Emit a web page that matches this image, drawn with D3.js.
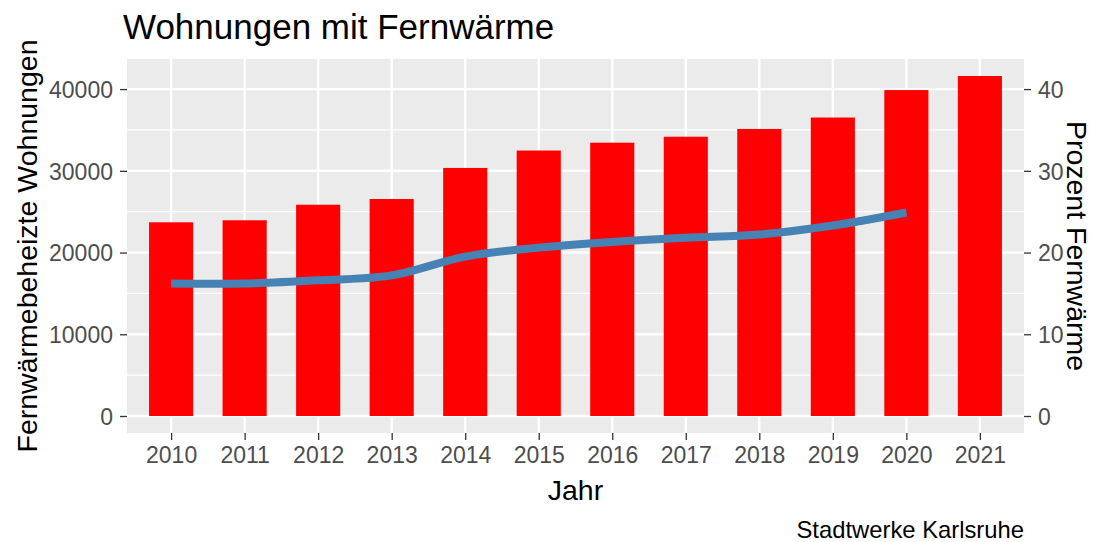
<!DOCTYPE html>
<html>
<head>
<meta charset="utf-8">
<script src="https://cdn.jsdelivr.net/npm/d3@7"></script>
<style>
  html, body { margin: 0; padding: 0; background: #ffffff; }
  svg { display: block; }
  text { font-family: "Liberation Sans", Arial, sans-serif; }
</style>
</head>
<body>
<svg id="chart" width="1095" height="542"></svg>
<script>
// ---- data ----
const years = ["2010","2011","2012","2013","2014","2015","2016","2017","2018","2019","2020","2021"];
const wohnungen = [23700, 23950, 25850, 26550, 30350, 32480, 33440, 34170, 35120, 36520, 39880, 41600];
const lineYears = ["2010","2011","2012","2013","2014","2015","2016","2017","2018","2019","2020"];
const prozent = [16.2, 16.2, 16.6, 17.2, 19.5, 20.6, 21.3, 21.8, 22.2, 23.3, 24.9];
const leftTicks = [0, 10000, 20000, 30000, 40000];
const leftMinor = [5000, 15000, 25000, 35000];
const rightTicks = [0, 10, 20, 30, 40];
const title = "Wohnungen mit Fernwärme";
const xTitle = "Jahr";
const yTitle = "Fernwärmebeheizte Wohnungen";
const y2Title = "Prozent Fernwärme";
const caption = "Stadtwerke Karlsruhe";
const factor = 1000;

// ---- layout ----
const panel = { left: 127, right: 1024, top: 59, bottom: 433 };
const svg = d3.select("#chart");

const maxV = d3.max(wohnungen);
const pad = maxV * 0.05;
const y = d3.scaleLinear().domain([-pad, maxV + pad]).range([panel.bottom, panel.top]);
const y2 = d3.scaleLinear().domain([-pad / factor, (maxV + pad) / factor]).range([panel.bottom, panel.top]);
const x = d3.scaleBand().domain(years).range([panel.left, panel.right])
  .paddingInner(0.4).paddingOuter(0.3).align(0.5);
const xc = d => x(d) + x.bandwidth() / 2;

// panel background
svg.append("rect")
  .attr("x", panel.left).attr("y", panel.top)
  .attr("width", panel.right - panel.left).attr("height", panel.bottom - panel.top)
  .attr("fill", "#EBEBEB");

// grid
const grid = svg.append("g");
grid.selectAll(".minor").data(leftMinor).enter().append("line")
  .attr("x1", panel.left).attr("x2", panel.right)
  .attr("y1", d => y(d)).attr("y2", d => y(d))
  .attr("stroke", "#ffffff").attr("stroke-width", 1.3);
grid.selectAll(".major").data(leftTicks).enter().append("line")
  .attr("x1", panel.left).attr("x2", panel.right)
  .attr("y1", d => y(d)).attr("y2", d => y(d))
  .attr("stroke", "#ffffff").attr("stroke-width", 2.4);
grid.selectAll(".vmajor").data(years).enter().append("line")
  .attr("y1", panel.top).attr("y2", panel.bottom)
  .attr("x1", d => xc(d)).attr("x2", d => xc(d))
  .attr("stroke", "#ffffff").attr("stroke-width", 2.4);

// bars
svg.append("g").selectAll("rect").data(years).enter().append("rect")
  .attr("x", d => x(d))
  .attr("width", x.bandwidth())
  .attr("y", (d, i) => y(wohnungen[i]))
  .attr("height", (d, i) => y(0) - y(wohnungen[i]))
  .attr("fill", "#FF0000");

// line
const lineGen = d3.line()
  .x((d, i) => xc(lineYears[i]))
  .y(d => y2(d))
  .curve(d3.curveCatmullRom.alpha(0.5));
svg.append("path")
  .datum(prozent)
  .attr("d", lineGen)
  .attr("fill", "none")
  .attr("stroke", "#4682B4")
  .attr("stroke-width", 8)
  .attr("stroke-linecap", "butt")
  .attr("stroke-linejoin", "round");

// axes
const tickLen = 7;
const tickFont = 23;
function styleAxis(g) {
  g.select(".domain").remove();
  g.selectAll(".tick line").attr("stroke", "#333333").attr("stroke-width", 1.3);
  g.selectAll(".tick text").attr("fill", "#4D4D4D")
    .style("font-size", tickFont + "px")
    .style("font-family", "'Liberation Sans', Arial, sans-serif");
}
const xAxis = svg.append("g").attr("transform", `translate(0,${panel.bottom})`)
  .call(d3.axisBottom(d3.scalePoint().domain(years).range([xc(years[0]), xc(years[years.length-1])]))
    .tickSize(tickLen).tickPadding(7));
styleAxis(xAxis);

const yAxis = svg.append("g").attr("transform", `translate(${panel.left},0)`)
  .call(d3.axisLeft(y).tickValues(leftTicks).tickFormat(d3.format("d")).tickSize(tickLen).tickPadding(7));
styleAxis(yAxis);
yAxis.selectAll(".tick text").attr("dy", "0.36em");

const y2Axis = svg.append("g").attr("transform", `translate(${panel.right},0)`)
  .call(d3.axisRight(y2).tickValues(rightTicks).tickFormat(d3.format("d")).tickSize(tickLen).tickPadding(7));
styleAxis(y2Axis);
y2Axis.selectAll(".tick text").attr("dy", "0.36em");

// titles
svg.append("text").attr("x", 123).attr("y", 39)
  .attr("font-size", 35).attr("fill", "#000").text(title);

svg.append("text").attr("x", (panel.left + panel.right) / 2).attr("y", 500)
  .attr("text-anchor", "middle").attr("font-size", 28.5).attr("fill", "#000").text(xTitle);

svg.append("text")
  .attr("transform", `translate(37,${(panel.top + panel.bottom) / 2}) rotate(-90)`)
  .attr("text-anchor", "middle").attr("font-size", 28.5).attr("fill", "#000").text(yTitle);

svg.append("text")
  .attr("transform", `translate(1067,${(panel.top + panel.bottom) / 2}) rotate(90)`)
  .attr("text-anchor", "middle").attr("font-size", 28.5).attr("fill", "#000").text(y2Title);

svg.append("text").attr("x", panel.right).attr("y", 538)
  .attr("text-anchor", "end").attr("font-size", 23.8).attr("fill", "#000").text(caption);
</script>
</body>
</html>
